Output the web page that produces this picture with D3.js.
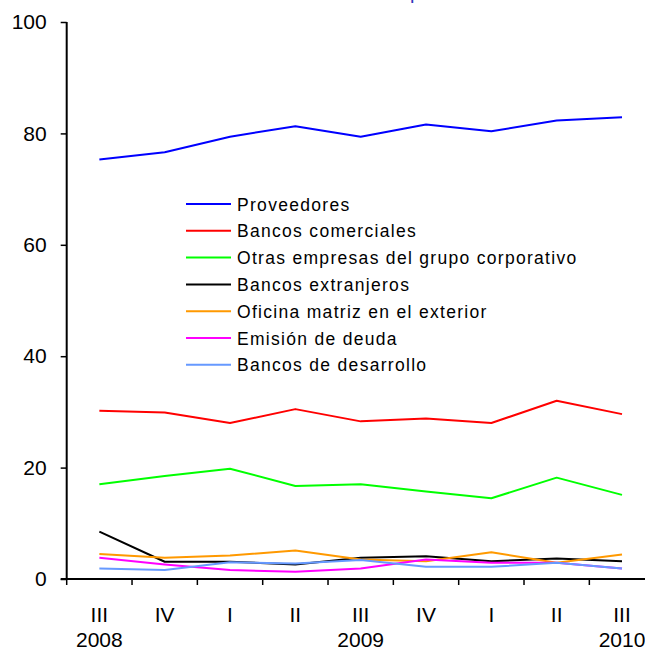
<!DOCTYPE html>
<html>
<head>
<meta charset="utf-8">
<script src="https://cdn.jsdelivr.net/npm/d3@7"></script>
<style>
  body { margin: 0; background: #fff; }
  svg { display: block; font-family: "Liberation Sans", Arial, sans-serif; }
</style>
</head>
<body>
<div id="chart"></div>
<script>
// quarters on the x axis
var quarters = ["III", "IV", "I", "II", "III", "IV", "I", "II", "III"];
var years = [{ idx: 0, label: "2008" }, { idx: 4, label: "2009" }, { idx: 8, label: "2010" }];
var yTicks = [0, 20, 40, 60, 80, 100];

// series values (percent)
var proveedores   = [75.3, 76.6, 79.4, 81.3, 79.4, 81.6, 80.4, 82.3, 82.9];
var bancosCom     = [30.2, 29.9, 28.0, 30.5, 28.3, 28.8, 28.0, 32.0, 29.6];
var otrasEmpresas = [17.0, 18.5, 19.8, 16.7, 17.0, 15.7, 14.5, 18.2, 15.1];
var bancosExt     = [8.5, 3.1, 3.1, 2.6, 3.8, 4.1, 3.2, 3.7, 3.2];
var oficinaMatriz = [4.5, 3.8, 4.2, 5.1, 3.5, 3.2, 4.8, 2.9, 4.4];
var emisionDeuda  = [3.8, 2.6, 1.6, 1.3, 1.9, 3.5, 2.9, 2.9, 1.9];
var bancosDes     = [1.9, 1.6, 3.0, 2.8, 3.4, 2.2, 2.2, 2.9, 1.9];

var seriesNames = ["Proveedores", "Bancos comerciales", "Otras empresas del grupo corporativo",
  "Bancos extranjeros", "Oficina matriz en el exterior", "Emisión de deuda", "Bancos de desarrollo"];
var seriesColors = ["#0000ff", "#ff0000", "#00ff00", "#000000", "#ff9900", "#ff00ff", "#6699ff"];
var seriesValues = [proveedores, bancosCom, otrasEmpresas, bancosExt, oficinaMatriz, emisionDeuda, bancosDes];

const w = 645;
const h = 650;
const font = "'Liberation Sans', Arial, sans-serif";

const svg = d3.select("#chart")
  .append("svg")
  .attr("width", w)
  .attr("height", h);

// band scale, bands run off the right edge like the original
var xScale = d3.scaleBand()
  .domain(d3.range(quarters.length))
  .range([66.7, 66.7 + 65.33 * quarters.length]);

var yScale = d3.scaleLinear()
  .domain([0, 100])
  .range([579, 22]);

// clipped title, only the descender shows
svg.append("text")
  .attr("x", 410)
  .attr("y", -1)
  .style("font-size", "20px")
  .style("font-family", font)
  .style("fill", "#3333bb")
  .text("p");

// y axis
var yAxis = d3.axisLeft(yScale)
  .tickValues(yTicks)
  .tickSize(6)
  .tickPadding(14);

var gy = svg.append("g")
  .attr("transform", "translate(" + 66.7 + ",0)")
  .call(yAxis);
gy.select(".domain").attr("stroke-width", 2).attr("d", "M0," + yScale(100) + "V" + yScale(0));
gy.selectAll(".tick line").attr("stroke-width", 1.5);
gy.selectAll(".tick text")
  .style("font-size", "21px")
  .style("font-family", font)
  .attr("fill", "#000");

// x axis line and boundary ticks
svg.append("line")
  .attr("x1", xScale.range()[0] - 6)
  .attr("x2", xScale.range()[1])
  .attr("y1", yScale(0))
  .attr("y2", yScale(0))
  .attr("stroke", "#000")
  .attr("stroke-width", 2);

svg.selectAll(".xtick")
  .data(d3.range(quarters.length))
  .enter()
  .append("line")
  .attr("class", "xtick")
  .attr("x1", d => xScale(d))
  .attr("x2", d => xScale(d))
  .attr("y1", yScale(0))
  .attr("y2", yScale(0) + 6)
  .attr("stroke", "#000")
  .attr("stroke-width", 1.5);

svg.selectAll(".qlabel")
  .data(quarters)
  .enter()
  .append("text")
  .attr("class", "qlabel")
  .attr("x", (d, i) => xScale(i) + xScale.bandwidth() / 2)
  .attr("y", 622)
  .style("font-size", "21px")
  .style("font-family", font)
  .style("text-anchor", "middle")
  .text(d => d);

svg.selectAll(".ylabel")
  .data(years)
  .enter()
  .append("text")
  .attr("class", "ylabel")
  .attr("x", d => xScale(d.idx) + xScale.bandwidth() / 2)
  .attr("y", 647)
  .style("font-size", "21px")
  .style("font-family", font)
  .style("text-anchor", "middle")
  .text(d => d.label);

// lines
var line = d3.line()
  .x((d, i) => xScale(i) + xScale.bandwidth() / 2)
  .y(d => yScale(d));

seriesValues.forEach(function(vals, k) {
  svg.append("path")
    .datum(vals)
    .attr("fill", "none")
    .attr("stroke", seriesColors[k])
    .attr("stroke-width", 2)
    .attr("stroke-linejoin", "round")
    .attr("d", line);
});

// legend
var legend = svg.append("g").attr("transform", "translate(186,204)");
var rows = legend.selectAll("g")
  .data(seriesNames)
  .enter()
  .append("g")
  .attr("transform", (d, i) => "translate(0," + (i * 26.8) + ")");

rows.append("line")
  .attr("x1", 0)
  .attr("x2", 45)
  .attr("stroke", (d, i) => seriesColors[i])
  .attr("stroke-width", 2);

rows.append("text")
  .attr("x", 51)
  .attr("y", 6.5)
  .style("font-size", "17.5px")
  .style("font-family", font)
  .style("letter-spacing", "1.3px")
  .text(d => d);
</script>
</body>
</html>
